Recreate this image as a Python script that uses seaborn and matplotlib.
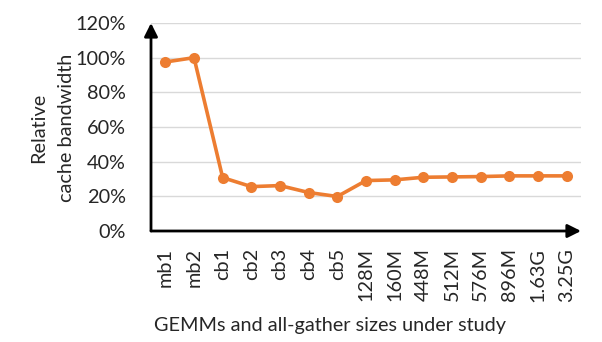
import matplotlib
matplotlib.use("Agg")
import matplotlib.pyplot as plt
import seaborn as sns
import pandas as pd

categories = ["mb1", "mb2", "cb1", "cb2", "cb3", "cb4", "cb5", "128M", "160M",
              "448M", "512M", "576M", "896M", "1.63G", "3.25G"]
values = [97.5, 100.0, 30.8, 25.6, 26.2, 22.2, 19.9, 29.1, 29.5,
          31.0, 31.2, 31.4, 31.8, 31.8, 31.8]
yticks = [0, 20, 40, 60, 80, 100, 120]
ytick_labels = ["0%", "20%", "40%", "60%", "80%", "100%", "120%"]
ylabel_lines = ["Relative", "cache bandwidth"]

sns.set_style("white")
plt.rcParams['font.family'] = ['Lato', 'DejaVu Sans']

df = pd.DataFrame({"x": list(range(len(categories))), "y": values})

fig = plt.figure(figsize=(6.02, 3.42), dpi=100)
ax = fig.add_axes([151/602, 1-231/342, (581-151)/602, (231-23)/342])

for yt in yticks[1:]:
    ax.axhline(yt, color="#D9D9D9", lw=1.0, zorder=0)

sns.lineplot(data=df, x="x", y="y", ax=ax, color="#ED7D31", lw=2.6,
             marker="o", markersize=8, markeredgewidth=0, zorder=3)

ax.set_xlim(-0.5, 14.5)
ax.set_ylim(0, 120)
ax.set_yticks(yticks)
ax.set_yticklabels(ytick_labels, fontsize=14.3)
ax.set_xticks(range(len(categories)))
ax.set_xticklabels(categories, rotation=90, fontsize=14.3)
ax.tick_params(axis="y", length=0, pad=18)
ax.tick_params(axis="x", length=0, pad=12)
for s in ax.spines.values():
    s.set_visible(False)

ax.annotate("", xy=(0, 1.0), xytext=(0, 0), xycoords="axes fraction",
            arrowprops=dict(arrowstyle="-|>,head_length=0.8,head_width=0.4",
                            color="black", lw=2, shrinkA=0, shrinkB=0))
ax.annotate("", xy=(1.0, 0), xytext=(0, 0), xycoords="axes fraction",
            arrowprops=dict(arrowstyle="-|>,head_length=0.8,head_width=0.4",
                            color="black", lw=2, shrinkA=0, shrinkB=0))

ax.set_xlabel("GEMMs and all-gather sizes under study", fontsize=14.3)
ax.xaxis.set_label_coords((330 - 151) / 430, -(317 - 231) / 208)
ax.set_ylabel("")
for xpix, line in zip([39, 66], ylabel_lines):
    fig.text(xpix / 602, 1 - 128 / 342, line, fontsize=14.3,
             rotation=90, ha="center", va="center")

fig.savefig("out.png", dpi=100)
